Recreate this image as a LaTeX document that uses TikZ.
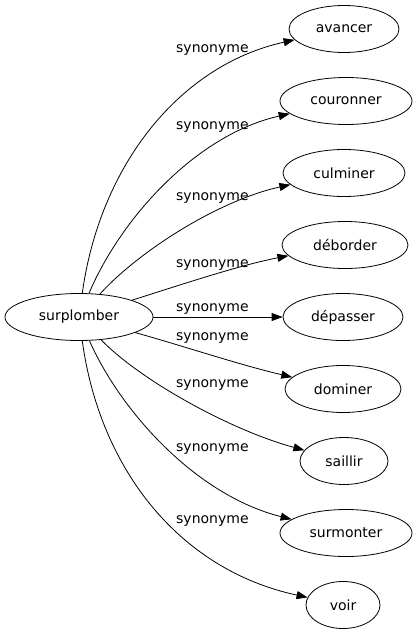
\documentclass[tikz,border=0pt]{standalone}
\usepackage{fontspec}
\setmainfont{DejaVu Sans}
\usetikzlibrary{shapes.geometric,arrows.meta}
\begin{document}
\begin{tikzpicture}[x=1pt,y=-1pt,
  every node/.style={font=\fontsize{14}{16}\selectfont},
  word/.style={draw, ellipse, line width=0.8pt, inner sep=0pt, minimum height=47pt},
  rel/.style={anchor=base west, inner sep=0pt},
  link/.style={draw, line width=0.8pt, -{Triangle[length=11pt,width=8pt]}}]
\useasboundingbox (0,0) rectangle (416,635);
\node[word, minimum width=148pt] (s) at (79,317) {surplomber};
\node[word, minimum width=110pt] (t1) at (344,29) {avancer};
\node[word, minimum width=132pt] (t2) at (346,101) {couronner};
\node[word, minimum width=122pt] (t3) at (344,173) {culminer};
\node[word, minimum width=126pt] (t4) at (345,245) {déborder};
\node[word, minimum width=120pt] (t5) at (343,317) {dépasser};
\node[word, minimum width=116pt] (t6) at (343,389) {dominer};
\node[word, minimum width=88pt] (t7) at (344,461) {saillir};
\node[word, minimum width=132pt] (t8) at (346,533) {surmonter};
\node[word, minimum width=74pt] (t9) at (343,605) {voir};
\path[link] (s) .. controls (100,165) and (180,65) .. (t1);
\path[link] (s) .. controls (120,220) and (195,135) .. (t2);
\path[link] (s) .. controls (140,250) and (220,200) .. (t3);
\path[link] (s) .. controls (180,285) and (240,265) .. (t4);
\path[link] (s) -- (t5);
\path[link] (s) .. controls (180,345) and (240,365) .. (t6);
\path[link] (s) .. controls (140,380) and (230,430) .. (t7);
\path[link] (s) .. controls (120,410) and (195,495) .. (t8);
\path[link] (s) .. controls (100,470) and (180,570) .. (t9);
\node[rel] (l1) at (176,52) {synonyme};
\node[rel] (l2) at (176,129) {synonyme};
\node[rel] (l3) at (176,200) {synonyme};
\node[rel] (l4) at (176,267) {synonyme};
\node[rel] (l5) at (176,311) {synonyme};
\node[rel] (l6) at (176,340) {synonyme};
\node[rel] (l7) at (176,387) {synonyme};
\node[rel] (l8) at (176,451) {synonyme};
\node[rel] (l9) at (176,523) {synonyme};
\end{tikzpicture}
\end{document}
